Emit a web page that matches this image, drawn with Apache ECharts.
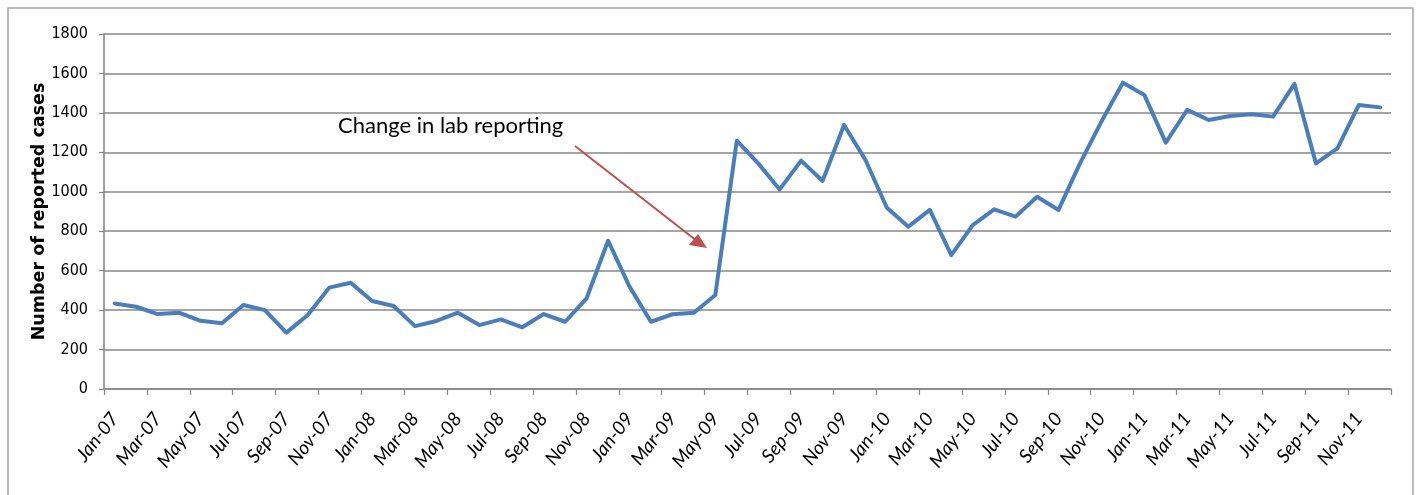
<!DOCTYPE html>
<html>
<head>
<meta charset="utf-8">
<title>Number of reported cases, 2007–2011</title>
<script src="https://cdn.jsdelivr.net/npm/echarts@6/dist/echarts.min.js"></script>
<style>
  html, body { margin: 0; padding: 0; background: #ffffff; }
  #chart { width: 1418px; height: 495px; }
</style>
</head>
<body>
<div id="chart"></div>
<script>
// Monthly reported cases, Jan 2007 – Dec 2011
const years = ['07', '08', '09', '10', '11'];
const monthNames = ['Jan', 'Feb', 'Mar', 'Apr', 'May', 'Jun', 'Jul', 'Aug', 'Sep', 'Oct', 'Nov', 'Dec'];
const months = [];
years.forEach(y => monthNames.forEach(m => months.push(m + '-' + y)));

const cases2007 = [434, 417, 380, 387, 346, 333, 426, 400, 286, 375, 514, 539];
const cases2008 = [446, 421, 319, 345, 387, 324, 353, 313, 380, 341, 460, 752];
const cases2009 = [519, 341, 379, 387, 477, 1259, 1144, 1012, 1158, 1055, 1339, 1161];
const cases2010 = [919, 823, 908, 679, 831, 911, 874, 975, 908, 1144, 1356, 1553];
const cases2011 = [1491, 1249, 1415, 1364, 1384, 1393, 1381, 1547, 1144, 1220, 1440, 1428];
const cases = [].concat(cases2007, cases2008, cases2009, cases2010, cases2011);

const yTicks = { min: 0, max: 1800, interval: 200 };
const annotationText = 'Change in lab reporting';

const chart = echarts.init(document.getElementById('chart'), null, { renderer: 'canvas' });

const gridColor = '#878787';

chart.setOption({
  animation: false,
  backgroundColor: '#ffffff',
  grid: { left: 104, right: 27, top: 34, bottom: 106 },
  xAxis: {
    type: 'category',
    data: months,
    boundaryGap: true,
    axisLine: { lineStyle: { color: gridColor, width: 1.6 } },
    axisTick: { show: true, interval: 1, length: 6, lineStyle: { color: gridColor, width: 1.2 } },
    axisLabel: {
      interval: 1,
      rotate: 52,
      margin: 26,
      fontFamily: 'Lato, sans-serif',
      fontStyle: 'italic',
      fontSize: 19,
      color: '#000000'
    },
    splitLine: { show: false }
  },
  yAxis: {
    type: 'value',
    min: yTicks.min,
    max: yTicks.max,
    interval: yTicks.interval,
    name: 'Number of reported cases',
    nameLocation: 'middle',
    nameGap: 56,
    nameRotate: 90,
    nameMoveOverlap: false,
    nameTextStyle: {
      fontFamily: 'DejaVu Sans, sans-serif',
      fontWeight: 'bold',
      fontSize: 17.5,
      color: '#000000'
    },
    axisLine: { show: true, lineStyle: { color: gridColor, width: 1.6 } },
    axisTick: { show: true, length: 5, lineStyle: { color: gridColor, width: 1.2 } },
    axisLabel: {
      margin: 16,
      formatter: v => String(v),
      fontFamily: 'Liberation Sans Narrow, DejaVu Sans Condensed, sans-serif',
      fontSize: 16,
      color: '#000000'
    },
    splitLine: { show: true, lineStyle: { color: gridColor, width: 1.7 } }
  },
  series: [{
    type: 'line',
    data: cases,
    symbol: 'none',
    smooth: false,
    lineStyle: { color: '#4a7ebb', width: 4, join: 'round', cap: 'round' },
    z: 3
  }],
  graphic: [
    {
      type: 'rect',
      shape: { x: 8, y: 8, width: 1405, height: 500 },
      style: { fill: 'none', stroke: '#a6a6a6', lineWidth: 1.5 },
      silent: true,
      z: 0
    },
    {
      type: 'text',
      left: 338,
      top: 115,
      style: {
        text: annotationText,
        fontFamily: 'Lato, sans-serif',
        fontSize: 22,
        fill: '#000000'
      },
      z: 5
    },
    {
      type: 'line',
      shape: { x1: 575, y1: 146, x2: 697, y2: 241 },
      style: { stroke: '#c0504d', lineWidth: 2 },
      z: 5
    },
    {
      type: 'polygon',
      shape: { points: [[707, 248], [689, 245], [698, 234]] },
      style: { fill: '#c0504d' },
      z: 5
    }
  ]
});
</script>
</body>
</html>
